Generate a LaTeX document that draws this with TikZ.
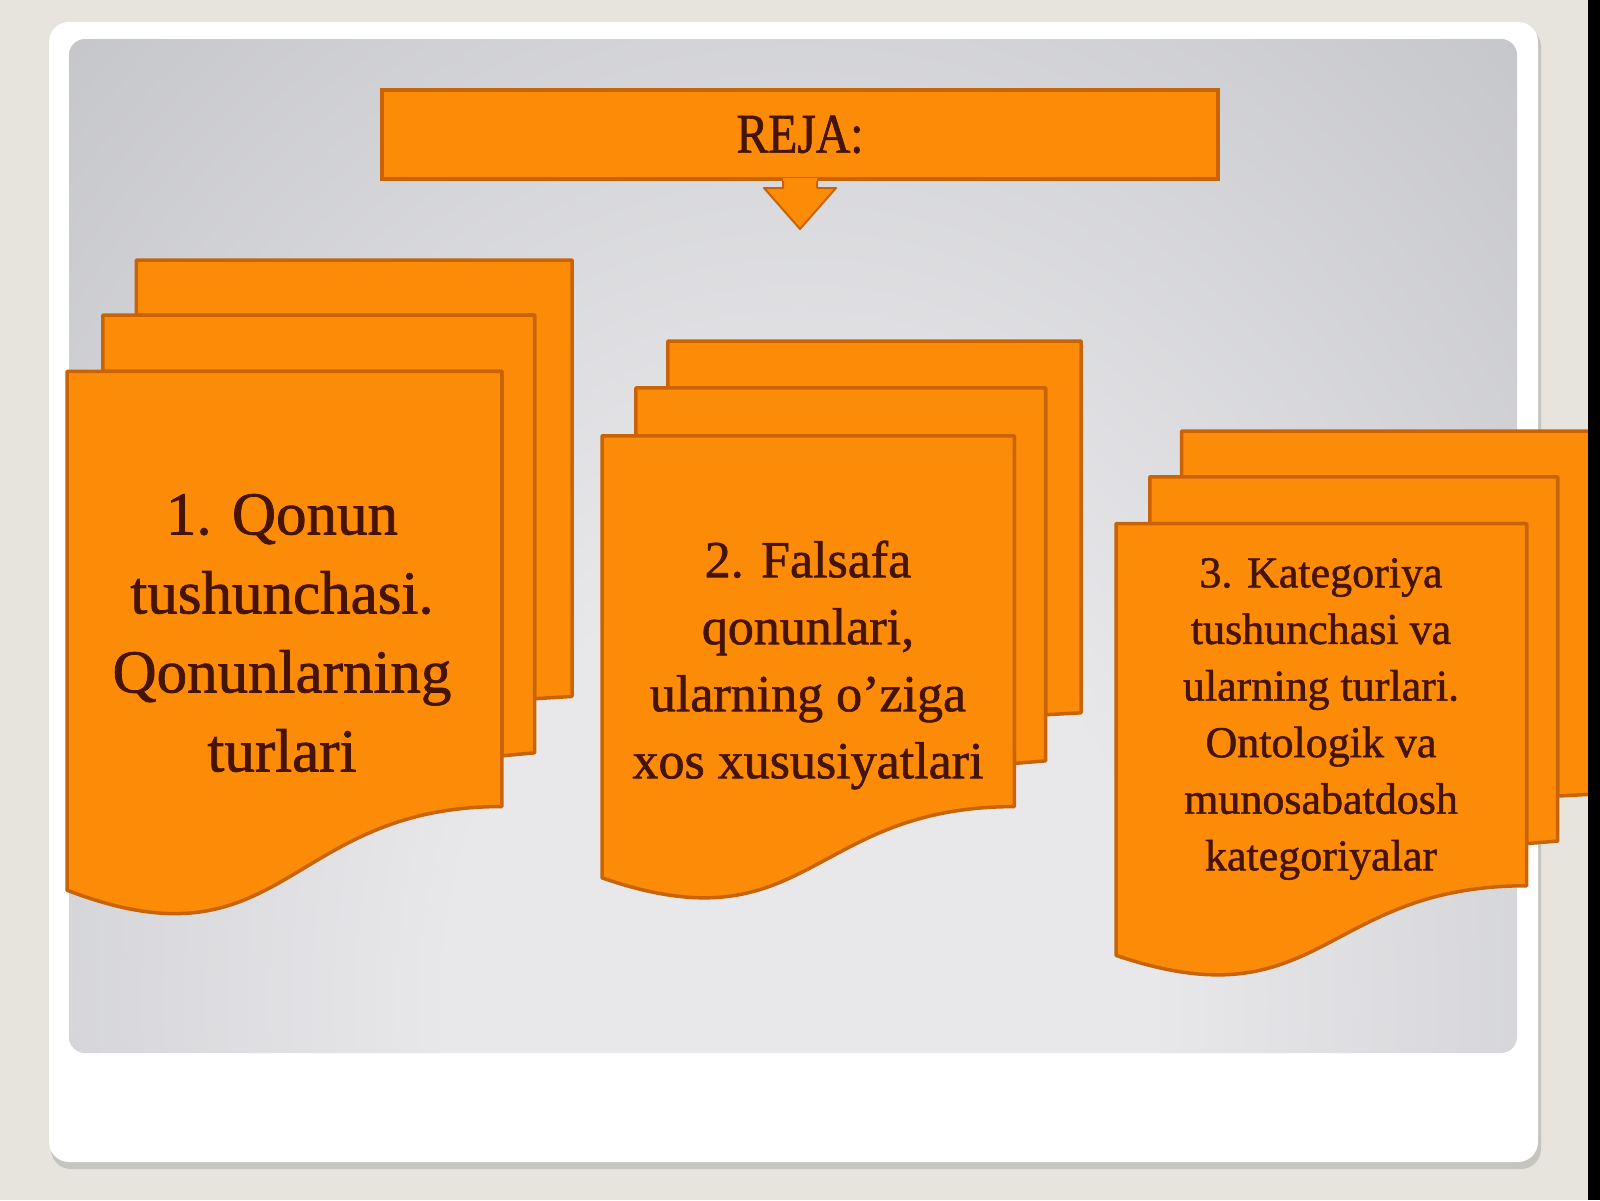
\documentclass[tikz,border=0pt]{standalone}
\usepackage{fontspec}
\setmainfont{Liberation Serif}
\newfontfamily\docfont[FakeBold=1.2]{Liberation Serif}
\newfontfamily\rejafont[FakeStretch=0.85, FakeBold=1.2]{Liberation Serif}
\usetikzlibrary{calc}

\definecolor{slidebg}{RGB}{230,228,220}
\definecolor{frameshadow}{RGB}{198,196,190}
\definecolor{panelhi}{RGB}{232,232,235}
\definecolor{panelmid}{RGB}{184,185,189}
\definecolor{panello}{RGB}{152,153,158}
\definecolor{docfill}{RGB}{252,140,8}
\definecolor{docedge}{RGB}{200,100,5}
\definecolor{doctext}{RGB}{70,20,5}

\pgfdeclareradialshading{panelglow}{\pgfpoint{0bp}{0bp}}{color(0bp)=(panelhi); color(7bp)=(panelhi); color(27bp)=(panelmid); color(42bp)=(panello); color(50bp)=(panello)}

\tikzset{%
docpage/.style={fill=docfill, draw=docedge, line width=3.5pt, line join=round},
doclabel/.style={text=doctext, align=center, inner sep=0, outer sep=0},
rejabox/.style={fill=docfill, draw=docedge, line width=4pt, minimum width=836pt, minimum height=89pt, inner sep=0, text=doctext, font=\rejafont\fontsize{56}{66}\selectfont}%
}

\begin{document}
\begin{tikzpicture}[x=1pt, y=-1pt]

% arguments: name, x, y, width, height
\newcommand{\drawdocstack}[5]{%
\begin{scope}[shift={(#2,#3)}, x=#4pt, y=-#5pt]
\draw [docpage] (0.1376,0.0840) -- (0.1376,0) -- (1,0) -- (1,0.6663) -- (0.9259,0.6698) -- (0.9259,0.0840) -- cycle ;
\draw [docpage] (0.0709,0.1701) -- (0.0709,0.0840) -- (0.9259,0.0840) -- (0.9259,0.7524) -- (0.8609,0.7570) -- (0.8609,0.1701) -- cycle ;
\draw [docpage] (0,0.9621) .. controls (0.4305,1.0899) and (0.4305,0.8344) .. (0.8609,0.8344) -- (0.8609,0.1701) -- (0,0.1701) -- cycle ;
\path (0.4305,0.55) node [shape=coordinate] (#1) {} ;
\end{scope}
}

\useasboundingbox (0,0) rectangle (1600,1200) ;
\fill [slidebg] (0,0) rectangle (1600,1200) ;

% frame and panel

\fill [frameshadow, rounded corners=20pt] (51,27) rectangle (1541,1169) ;
\fill [white, rounded corners=20pt] (49,22) rectangle (1538,1162) ;

\begin{scope}
\clip [rounded corners=16pt] (69,39) rectangle (1517,1053) ;
\shade [shading=panelglow] (800,1000) ellipse [x radius=1250pt, y radius=1560pt] ;
\end{scope}

% title and arrow

\node [rejabox] (reja) at (800,134.5) {REJA:} ;

\fill [docfill] ($(reja.south)+(-17,-3)$) -- ++(34,0) -- ++(0,10) -- ++(19,0)
	-- ($(reja.south)+(0,48)$) -- ($(reja.south)+(-36,7)$) -- ++(19,0) -- cycle ;
\draw [docedge, line width=2pt, line join=round] ($(reja.south)+(17,0)$) -- ++(0,7) -- ++(19,0)
	-- ($(reja.south)+(0,48)$) -- ($(reja.south)+(-36,7)$) -- ++(19,0) -- ++(0,-7) ;

% draw document stacks

\drawdocstack{qonun}{67}{260}{505}{655}
\drawdocstack{falsafa}{602}{341}{479}{558}
\drawdocstack{kategoriya}{1116}{431}{477}{545}

\node [doclabel, font=\docfont\fontsize{61}{79}\selectfont] (qonuntext) at (282,633)
	{1. Qonun\\tushunchasi.\\Qonunlarning\\turlari} ;

\node [doclabel, font=\docfont\fontsize{52}{67}\selectfont] (falsafatext) at (808,665)
	{2. Falsafa\\qonunlari,\\ularning o’ziga\\xos xususiyatlari} ;

\node [doclabel, font=\docfont\fontsize{44}{56.6}\selectfont] (kategoriyatext) at (1321,719)
	{3. Kategoriya\\tushunchasi va\\ularning turlari.\\Ontologik va\\munosabatdosh\\kategoriyalar} ;

\fill [black] (1588,0) rectangle (1600,1200) ;

\end{tikzpicture}
\end{document}
